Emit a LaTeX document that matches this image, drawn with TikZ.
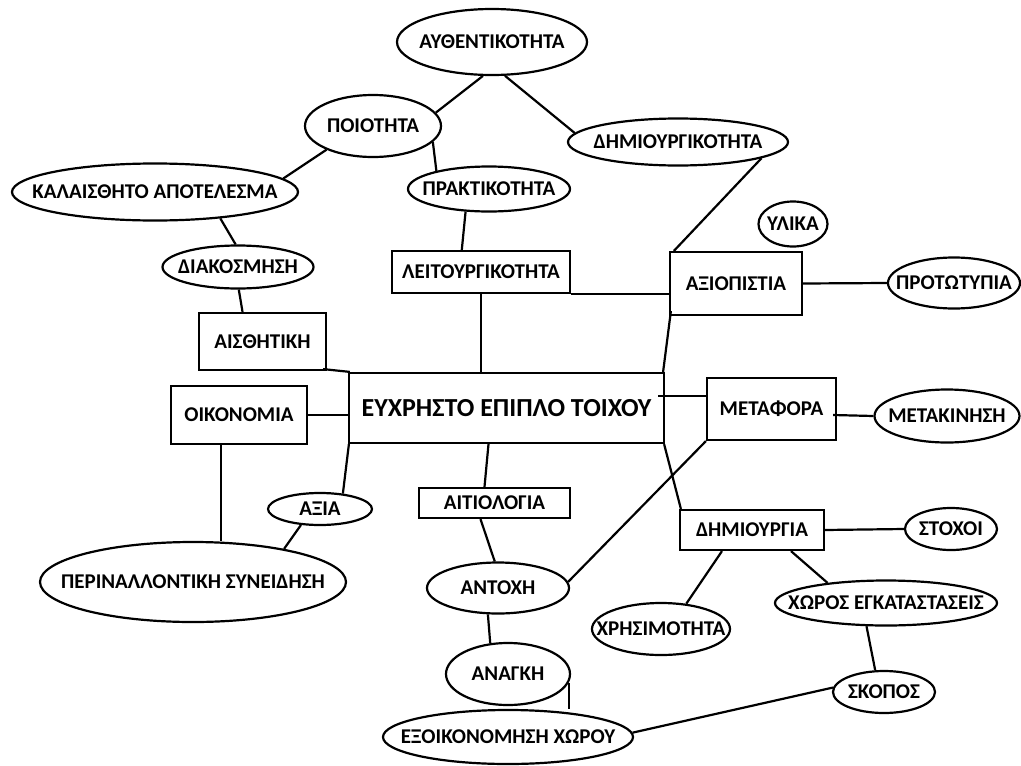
\documentclass[tikz,border=0pt]{standalone}
\usepackage{fontspec}
\newfontfamily\lblfont{Carlito}
\usetikzlibrary{shapes.geometric}
\newcommand{\zw}[1]{\makebox[0pt]{#1}}
\tikzset{
  lbl/.style={font=\lblfont\bfseries\fontsize{21}{22}\selectfont},
  ell/.style={draw, ellipse, inner sep=0pt, lbl},
  boxn/.style={draw, rectangle, inner sep=0pt, lbl},
  sz/.style 2 args={minimum width=#1pt, minimum height=#2pt},
  conn/.style={line width=2.2pt},
  every node/.append style={line width=2.2pt}
}
\begin{document}
\begin{tikzpicture}[x=1pt,y=-1pt]
\useasboundingbox (0,0) rectangle (1021,766);
% ellipses
\node[ell,sz={190}{66}] (auth) at (492,42) {\zw{ΑΥΘΕΝΤΙΚΟΤΗΤΑ}};
\node[ell,sz={136}{62}] (poi) at (373,126) {\zw{ΠΟΙΟΤΗΤΑ}};
\node[ell,sz={286}{57}] (kal) at (155,192) {\zw{ΚΑΛΑΙΣΘΗΤΟ ΑΠΟΤΕΛΕΣΜΑ}};
\node[ell,sz={162}{45}] (prakt) at (489,189) {\zw{ΠΡΑΚΤΙΚΟΤΗΤΑ}};
\node[ell,sz={151}{43}] (diak) at (238,267) {\zw{ΔΙΑΚΟΣΜΗΣΗ}};
\node[ell,sz={220}{47}] (dimk) at (678,142) {\zw{ΔΗΜΙΟΥΡΓΙΚΟΤΗΤΑ}};
\node[ell,sz={69}{45}] (ylika) at (793,224) {\zw{ΥΛΙΚΑ}};
\node[ell,sz={132}{51}] (prot) at (954,283) {\zw{ΠΡΟΤΩΤΥΠΙΑ}};
\node[ell,sz={104}{32}] (axia) at (320,509) {\zw{ΑΞΙΑ}};
\node[ell,sz={306}{80}] (perib) at (193,582) {\zw{ΠΕΡΙΝΑΛΛΟΝΤΙΚΗ ΣΥΝΕΙΔΗΣΗ}};
\node[ell,sz={142}{51}] (antoxi) at (498,588) {\zw{ΑΝΤΟΧΗ}};
\node[ell,sz={124}{62}] (anagki) at (508,674) {\zw{ΑΝΑΓΚΗ}};
\node[ell,sz={250}{54}] (exoik) at (508,737) {\zw{ΕΞΟΙΚΟΝΟΜΗΣΗ ΧΩΡΟΥ}};
\node[ell,sz={145}{53}] (metak) at (947,416) {\zw{ΜΕΤΑΚΙΝΗΣΗ}};
\node[ell,sz={92}{42}] (stoxoi) at (951,529) {\zw{ΣΤΟΧΟΙ}};
\node[ell,sz={138}{52}] (xris) at (661,629) {\zw{ΧΡΗΣΙΜΟΤΗΤΑ}};
\node[ell,sz={222}{45}] (xoros) at (886,603) {\zw{ΧΩΡΟΣ ΕΓΚΑΤΑΣΤΑΣΕΙΣ}};
\node[ell,sz={102}{42}] (skopos) at (884,692) {\zw{ΣΚΟΠΟΣ}};
% boxes
\node[boxn,sz={127}{57}] (aisth) at (262.5,341.5) {ΑΙΣΘΗΤΙΚΗ};
\node[boxn,sz={178}{42}] (leit) at (481,272) {ΛΕΙΤΟΥΡΓΙΚΟΤΗΤΑ};
\node[boxn,sz={132}{63}] (axiop) at (736,283.5) {ΑΞΙΟΠΙΣΤΙΑ};
\node[boxn,sz={315}{70},font=\lblfont\bfseries\fontsize{26}{27}\selectfont] (centr) at (506.5,408) {ΕΥΧΡΗΣΤΟ ΕΠΙΠΛΟ ΤΟΙΧΟΥ};
\node[boxn,sz={136}{58}] (oik) at (239,415) {ΟΙΚΟΝΟΜΙΑ};
\node[boxn,sz={151}{30}] (aitiol) at (494.5,503) {ΑΙΤΙΟΛΟΓΙΑ};
\node[boxn,sz={129}{62}] (metaf) at (771.5,409) {ΜΕΤΑΦΟΡΑ};
\node[boxn,sz={144}{40}] (dim) at (752,530) {ΔΗΜΙΟΥΡΓΙΑ};
% connectors
\begin{scope}[conn]
\draw (auth.255) -- (poi.12);
\draw (auth.291) -- (dimk.175);
\draw (poi.207) -- (kal.6);
\draw (poi.345) -- (prakt.161);
\draw (kal.338) -- (diak.96);
\draw (diak.272) -- (aisth.124);
\draw (prakt.224) -- (leit.131);
\draw (leit.south) -- (leit.south |- centr.north);
\draw (leit.south east) -- (leit.south east -| axiop.west);
\draw (dimk.349) -- ([xshift=5pt]axiop.north west);
\draw (axiop.east) -- (prot.west);
\draw ([xshift=2pt,yshift=5pt]axiop.south west) -- ([xshift=-2pt]centr.north east);
\draw ([xshift=-4pt,yshift=2pt]aisth.south east) -- ([xshift=2pt]centr.north west);
\draw (oik.east) -- (oik.east -| centr.west);
\draw ([xshift=-18pt]oik.south) -- ([xshift=-18pt]oik.south |- perib.north);
\draw ([xshift=1pt]centr.south west) -- (axia.34);
\draw (axia.220) -- (perib.20);
\draw ([xshift=-18pt]centr.south) -- ([xshift=-10pt]aitiol.north);
\draw ([xshift=-14pt]aitiol.south) -- (antoxi.97);
\draw (antoxi.249) -- (anagki.120);
\draw (anagki.352.4) -- (anagki.352.4 |- exoik.north);
\draw ([yshift=13pt]metaf.west) -- ([xshift=-7pt,yshift=13pt]metaf.west -| centr.east);
\draw ([xshift=-4pt,yshift=-6pt]metaf.east) -- (metak.west);
\draw (metaf.south west) -- (antoxi.5);
\draw ([xshift=-1pt]centr.south east) -- ([xshift=2pt]dim.north west);
\draw (dim.east) -- (stoxoi.west);
\draw ([xshift=-30pt]dim.south) -- (xris.45);
\draw ([xshift=39pt]dim.south) -- (xoros.161);
\draw (xoros.230) -- (skopos.112);
\draw (skopos.175) -- (exoik.2);
\end{scope}
\end{tikzpicture}
\end{document}
